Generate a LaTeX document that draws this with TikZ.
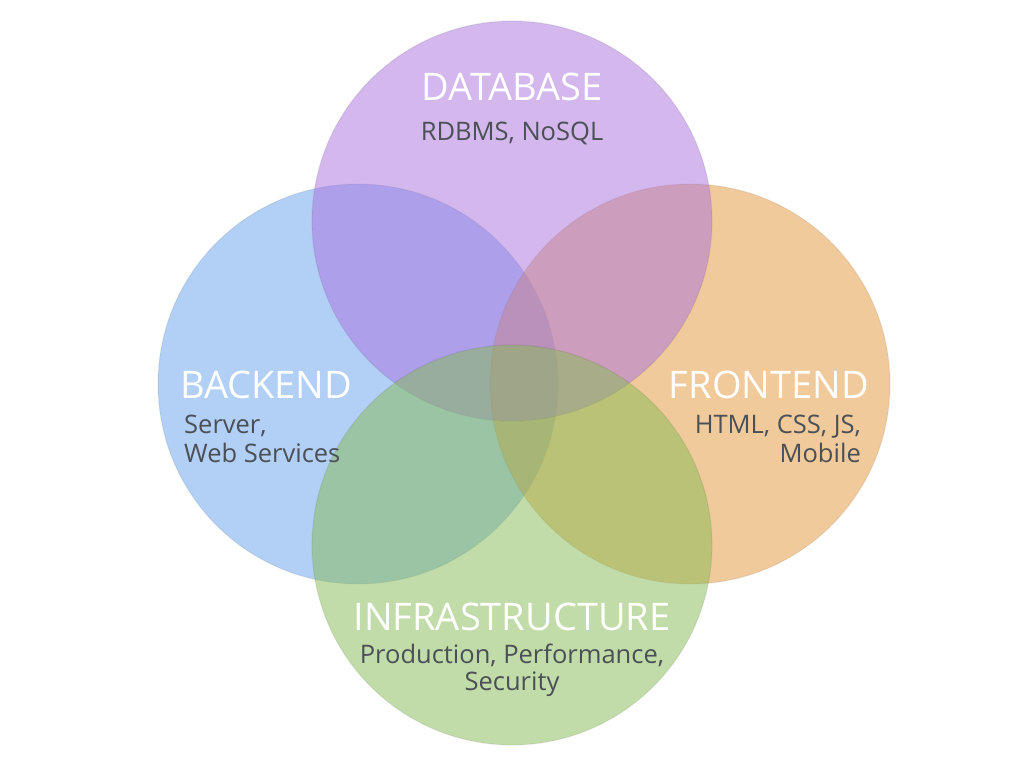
\documentclass[tikz,border=0pt]{standalone}
\usepackage{fontspec}
\setmainfont{Open Sans}
\definecolor{cblue}{RGB}{103,161,239}
\definecolor{corange}{RGB}{229,151,59}
\definecolor{cpurple}{RGB}{169,113,221}
\definecolor{cgreen}{RGB}{133,187,85}
\definecolor{subtxt}{RGB}{75,80,86}
\tikzset{
  venn/.style={circle, minimum size=400pt, inner sep=0pt, fill opacity=0.5, draw=black, draw opacity=0.06, line width=1.2pt},
  title/.style={text=white, inner sep=0pt, font=\fontsize{38}{44}\selectfont},
  sub/.style={text=subtxt, inner sep=0pt, font=\fontsize{25.5}{30}\selectfont},
}
\begin{document}
\begin{tikzpicture}[x=1pt,y=-1pt]
\useasboundingbox (0,0) rectangle (1024,768);
\fill[white] (0,0) rectangle (1024,768);
\node[venn, fill=cblue]   (be) at (358,384) {};
\node[venn, fill=corange] (fe) at (690,384) {};
\node[venn, fill=cpurple] (db) at (512,221) {};
\node[venn, fill=cgreen]  (inf) at (512,545) {};

\node[title, anchor=base] (dbt) at (512,100) {DATABASE};
\node[sub, anchor=base] (dbs) at (512,140) {RDBMS, NoSQL};

\node[title, anchor=base west] (bet) at (180,398) {BACKEND};
\node[sub, anchor=base west] (bes1) at (184,433) {Server,};
\node[sub, anchor=base west] (bes2) at (184,462) {Web Services};

\node[title, anchor=base east] (fet) at (869,398) {FRONTEND};
\node[sub, anchor=base east] (fes1) at (861,433) {HTML, CSS, JS,};
\node[sub, anchor=base east] (fes2) at (861,462) {Mobile};

\node[title, anchor=base] (inft) at (512,630) {INFRASTRUCTURE};
\node[sub, anchor=base] (infs1) at (512,663) {Production, Performance,};
\node[sub, anchor=base] (infs2) at (512,690) {Security};
\end{tikzpicture}
\end{document}
